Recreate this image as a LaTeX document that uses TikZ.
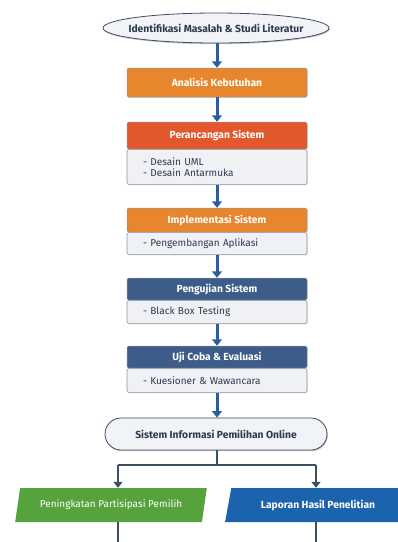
\documentclass[tikz,border=0pt]{standalone}
\usepackage{fontspec}
\setmainfont{Fira Sans}
\usetikzlibrary{arrows.meta,shapes.geometric,shadows,calc}
\definecolor{corange}{HTML}{E8862E}
\definecolor{cred}{HTML}{E2572B}
\definecolor{cnavy}{HTML}{3D5C87}
\definecolor{cbody}{HTML}{EFF1F4}
\definecolor{cborder}{HTML}{8A96A6}
\definecolor{carrow}{HTML}{2B5E9E}
\definecolor{cgreen}{HTML}{56A33E}
\definecolor{cblue}{HTML}{1C63AE}
\definecolor{ctext}{HTML}{2C3A50}
\definecolor{cline}{HTML}{3D4F66}
\definecolor{coval}{HTML}{F1F3F6}
\begin{document}
\begin{tikzpicture}[x=1pt,y=-1pt,
  every node/.style={font=\fontsize{10}{11}\selectfont},
  oval/.style={ellipse, draw=cline, line width=0.8pt, fill=coval, text=ctext, font=\fontsize{10.3}{11}\selectfont\bfseries, inner xsep=-9pt, inner ysep=0pt,
    drop shadow={shadow xshift=0.8pt, shadow yshift=-1.2pt, opacity=0.45}},
  pill/.style={rectangle, rounded corners=16pt, draw=cline, line width=0.8pt, fill=coval, text=ctext, font=\fontsize{10.3}{11}\selectfont\bfseries, inner sep=0pt,
    drop shadow={shadow xshift=0.8pt, shadow yshift=-1.2pt, opacity=0.45}},
  head/.style={rectangle, rounded corners=1.5pt, draw=cborder, line width=0.5pt, minimum width=180pt, text=white, font=\fontsize{10.3}{11}\selectfont\bfseries, inner sep=0pt,
    drop shadow={shadow xshift=0.5pt, shadow yshift=-0.8pt, opacity=0.25}},
  bodybox/.style={rectangle, rounded corners=1.5pt, draw=cborder, line width=0.6pt, fill=cbody, text=ctext, text width=148pt, align=left, inner xsep=16pt, inner ysep=0pt, font=\fontsize{10}{11.5}\selectfont,
    drop shadow={shadow xshift=0.5pt, shadow yshift=-0.8pt, opacity=0.25}},
  para/.style={trapezium, trapezium left angle=69, trapezium right angle=111, trapezium stretches=true, minimum height=34pt, inner sep=0pt, text=white},
  flow/.style={draw=carrow, line width=3pt, -{Triangle[width=10pt,length=6.5pt]}},
  link/.style={draw=cline, line width=1.6pt},
  linkarrow/.style={draw=cline, line width=1.6pt, -{Triangle[width=9pt,length=6pt]}}
]
\useasboundingbox (0,0) rectangle (398,542);
\fill[white] (0,0) rectangle (398,542);

\node[oval, minimum width=226pt, minimum height=30pt] (start) at (216,28) {Identifikasi Masalah \& Studi Literatur};

\node[head, fill=corange, minimum height=29pt] (ana) at (217,82.5) {Analisis Kebutuhan};

\node[head, fill=cred, minimum height=27pt] (p1h) at (217,135.5) {Perancangan Sistem};
\node[bodybox, minimum height=35pt, anchor=north] (p1b) at (p1h.south) {- Desain UML\\- Desain Antarmuka};

\node[head, fill=corange, minimum height=24pt] (p2h) at (217,220) {Implementasi Sistem};
\node[bodybox, minimum height=22pt, anchor=north] (p2b) at (p2h.south) {- Pengembangan Aplikasi};

\node[head, fill=cnavy, minimum height=22pt] (p3h) at (217,289) {Pengujian Sistem};
\node[bodybox, minimum height=23pt, anchor=north] (p3b) at (p3h.south) {- Black Box Testing};

\node[head, fill=cnavy, minimum height=22pt] (p4h) at (217,357) {Uji Coba \& Evaluasi};
\node[bodybox, minimum height=24pt, anchor=north] (p4b) at (p4h.south) {- Kuesioner \& Wawancara};

\node[pill, minimum width=222pt, minimum height=32pt] (sys) at (216,434) {Sistem Informasi Pemilihan Online};

\node[para, fill=cgreen, minimum width=192pt, font=\fontsize{10}{11}\selectfont] (g) at (111,505) {Peningkatan Partisipasi Pemilih};
\node[para, fill=cblue, minimum width=186pt, font=\fontsize{10.3}{11}\selectfont\bfseries] (b) at (318,505) {Laporan Hasil Penelitian};

\draw[flow] (start.south -| ana.north) -- (ana.north);
\draw[flow] (ana.south) -- (p1h.north);
\draw[flow] (p1b.south) -- (p2h.north);
\draw[flow] (p2b.south) -- (p3h.north);
\draw[flow] (p3b.south) -- (p4h.north);
\draw[flow] (p4b.south) -- (sys.north -| p4b.south);

\coordinate (jn) at (217,465);
\coordinate (jl) at (118,465);
\coordinate (jr) at (316,465);
\coordinate (gend) at (118,546);
\coordinate (bend) at (316,546);
\draw[link] (sys.south -| jn) -- (jn);
\draw[link] (jl) -- (jr);
\draw[linkarrow] (jl) -- (jl |- g.north);
\draw[linkarrow] (jr) -- (jr |- b.north);
\draw[link] (jl |- g.south) -- (gend);
\draw[link] (jr |- b.south) -- (bend);
\end{tikzpicture}
\end{document}
